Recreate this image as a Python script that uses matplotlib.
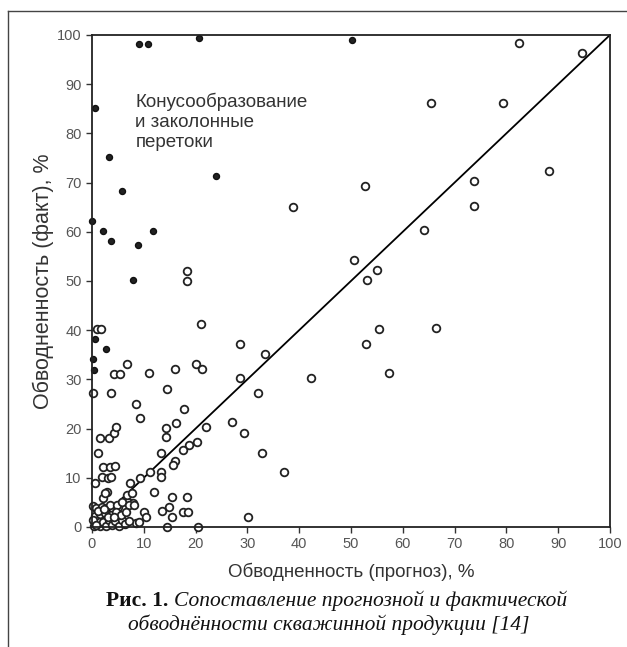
import matplotlib
matplotlib.use("Agg")
import matplotlib.pyplot as plt
from matplotlib.lines import Line2D

plt.rcParams["font.family"] = ["Liberation Sans", "DejaVu Sans"]

# прогноз / факт, открытые кружки
x_obs = [82.4, 94.6, 65.4, 79.3, 88.2, 73.7, 52.7, 38.8, 73.7, 64.1, 50.6, 55.0, 53.1,
         55.4, 66.4, 52.9, 57.3, 42.3,
         18.3, 18.3, 21.0, 1.0, 1.8, 0.2, 3.6, 4.2, 5.4, 6.7, 11.1, 14.4, 16.0, 20.1,
         21.2, 28.6, 28.6, 33.4, 32.0,
         8.5, 9.2, 17.8, 16.2, 14.2, 14.2, 27.0, 29.3, 22.0, 20.3, 18.8, 17.6, 16.0,
         15.6, 13.4, 32.8, 37.1, 11.2, 13.4, 13.4, 9.3, 7.3, 12.0, 15.4, 18.3, 17.6,
         18.6, 13.6, 14.9, 15.4, 10.1, 10.4, 8.5, 14.5, 20.5, 30.1,
         1.2, 1.6, 3.2, 4.3, 4.6, 2.1, 3.5, 4.4, 2.0, 3.1, 3.6, 0.6, 2.9, 2.2, 0.2,
         0.8, 7.0, 7.9, 5.0, 1.9, 3.5, 4.8, 5.8, 7.1, 8.1, 6.8, 7.7, 2.5,
         0.3, 1.0, 1.5, 2.2, 2.8, 3.3, 3.9, 4.5, 5.2, 5.8, 6.4, 7.2, 0.6, 1.6, 2.6,
         3.6, 4.6, 5.6, 6.5, 0.2, 1.2, 2.4, 3.0, 4.2, 0.7, 9.0]
y_obs = [98.3, 96.3, 86.2, 86.2, 72.4, 70.3, 69.3, 65.0, 65.2, 60.4, 54.3, 52.2, 50.2,
         40.2, 40.4, 37.2, 31.3, 30.3,
         52.0, 50.0, 41.3, 40.3, 40.3, 27.2, 27.2, 31.1, 31.1, 33.1, 31.2, 28.1, 32.1,
         33.1, 32.1, 37.2, 30.3, 35.2, 27.2,
         25.0, 22.1, 24.0, 21.1, 20.1, 18.2, 21.3, 19.1, 20.3, 17.2, 16.6, 15.7, 13.5,
         12.6, 15.0, 15.0, 11.2, 11.2, 11.1, 10.1, 10.0, 8.9, 7.1, 6.1, 6.0, 3.1,
         3.1, 3.2, 4.1, 2.0, 3.1, 2.0, 0.9, 0.0, 0.0, 2.0,
         15.0, 18.1, 18.1, 19.1, 20.3, 12.2, 12.2, 12.3, 10.1, 10.0, 10.2, 9.0, 7.1,
         5.9, 4.2, 3.8, 5.1, 4.9, 4.1, 4.1, 4.5, 4.5, 5.1, 4.5, 4.5, 6.5, 6.9, 6.9,
         0.3, 1.2, 0.2, 1.0, 0.3, 1.5, 0.5, 1.2, 0.2, 1.4, 0.6, 1.2, 2.2, 2.6, 2.9,
         2.5, 3.0, 2.4, 3.0, 1.5, 3.3, 3.6, 2.0, 2.0, 0.5, 1.1]

# конусообразование и заколонные перетоки, тёмные точки
x_con = [0.6, 3.3, 5.8, 9.1, 10.8, 20.7, 23.9, 0.0, 2.1, 3.7, 11.8, 8.9, 50.2,
         0.6, 2.7, 0.2, 0.4, 7.9]
y_con = [85.2, 75.2, 68.2, 98.2, 98.2, 99.4, 71.3, 62.2, 60.2, 58.1, 60.2, 57.3, 99.0,
         38.2, 36.2, 34.1, 32.0, 50.2]

line_x = [0, 100]
line_y = [0, 100]

ticks = list(range(0, 101, 10))

fig = plt.figure(figsize=(6.27, 6.47), dpi=100)
ax = fig.add_axes([0.1467, 0.1855, 0.8262, 0.7605])

ax.plot(line_x, line_y, color="black", lw=1.3)
ax.plot(x_obs, y_obs, "o", ms=5.5, mfc="white", mec="#222222", mew=1.3, clip_on=False)
ax.plot(x_con, y_con, "o", ms=4.3, mfc="#222222", mec="#111111", mew=1.0, clip_on=False)

ax.set_xlim(0, 100)
ax.set_ylim(0, 100)
ax.set_xticks(ticks)
ax.set_yticks(ticks)
ax.tick_params(direction="out", length=4, width=1, labelsize=10.5,
               labelcolor="#555555", color="#333333")
for s in ax.spines.values():
    s.set_linewidth(1.3)
    s.set_color("#222222")

ax.set_xlabel("Обводненность (прогноз), %", fontsize=13.5, color="#333333", labelpad=8)
ax.set_ylabel("Обводненность (факт), %", fontsize=15.5, color="#333333", labelpad=2)

ax.text(8.4, 88.2, "Конусообразование\nи заколонные\nперетоки", fontsize=13.5,
        color="#333333", va="top", ha="left", linespacing=1.22)

# рамка страницы
fig.add_artist(Line2D([0.013, 1.0], [0.983, 0.983], color="#444444", lw=1.0))
fig.add_artist(Line2D([0.013, 0.013], [0.0, 0.983], color="#444444", lw=1.0))

# подпись
fig.canvas.draw()
r = fig.canvas.get_renderer()
serif = ["Liberation Serif", "DejaVu Serif"]
t1 = fig.text(0, 0.063, "Рис. 1. ", fontsize=15.5, fontweight="bold", family=serif,
              color="#111111")
t2 = fig.text(0, 0.063, "Сопоставление прогнозной и фактической", fontsize=15.5,
              style="italic", family=serif, color="#111111")
w1 = t1.get_window_extent(r).width / fig.bbox.width
w2 = t2.get_window_extent(r).width / fig.bbox.width
x0 = 0.537 - (w1 + w2) / 2
t1.set_x(x0)
t2.set_x(x0 + w1)
fig.text(0.525, 0.027, "обводнённости скважинной продукции [14]", fontsize=15.5,
         style="italic", family=serif, color="#111111", ha="center")

fig.savefig("out.png", dpi=100)
